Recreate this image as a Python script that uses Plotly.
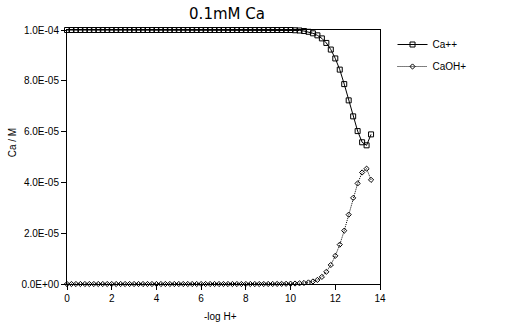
import plotly.graph_objects as go

# -log H+ values (pH) of the titration points
ph = [0.0, 0.2, 0.4, 0.6, 0.8, 1.0, 1.2, 1.4, 1.6, 1.8,
      2.0, 2.2, 2.4, 2.6, 2.8, 3.0, 3.2, 3.4, 3.6, 3.8,
      4.0, 4.2, 4.4, 4.6, 4.8, 5.0, 5.2, 5.4, 5.6, 5.8,
      6.0, 6.2, 6.4, 6.6, 6.8, 7.0, 7.2, 7.4, 7.6, 7.8,
      8.0, 8.2, 8.4, 8.6, 8.8, 9.0, 9.2, 9.4, 9.6, 9.8,
      10.0, 10.2, 10.4, 10.6, 10.8, 11.0, 11.2, 11.4, 11.6, 11.8,
      12.0, 12.2, 12.4, 12.6, 12.8, 13.0, 13.2, 13.4, 13.6]

# Ca++ concentration (M)
ca_free = [1.0e-4] * 51 + [
    0.999e-4, 0.998e-4, 0.996e-4, 0.993e-4, 0.987e-4, 0.979e-4, 0.967e-4, 0.949e-4, 0.923e-4,
    0.888e-4, 0.844e-4, 0.787e-4, 0.723e-4, 0.660e-4, 0.602e-4, 0.558e-4, 0.546e-4, 0.589e-4]

# CaOH+ concentration (M)
ca_oh = [0.0] * 45 + [
    0.01e-6, 0.02e-6, 0.03e-6, 0.05e-6, 0.08e-6,
    0.12e-6, 0.18e-6, 0.27e-6, 0.40e-6, 0.62e-6, 1.0e-6, 1.6e-6, 2.8e-6, 4.8e-6, 7.5e-6,
    11.1e-6, 15.5e-6, 21.0e-6, 27.3e-6, 33.9e-6, 39.6e-6, 43.9e-6, 45.4e-6, 41.0e-6]

y_ticks = [0.0, 2.0e-5, 4.0e-5, 6.0e-5, 8.0e-5, 1.0e-4]
y_tick_labels = ["0.0E+00", "2.0E-05", "4.0E-05", "6.0E-05", "8.0E-05", "1.0E-04"]
x_ticks = [0, 2, 4, 6, 8, 10, 12, 14]

FONT = "Liberation Sans"

fig = go.Figure()
fig.add_trace(go.Scatter(
    x=ph, y=ca_free, name="Ca++", mode="lines+markers", legendgroup="free",
    line=dict(color="black", width=1),
    marker=dict(symbol="square-open", size=5, color="black", line=dict(width=1)),
    cliponaxis=False,
))
fig.add_trace(go.Scatter(
    x=ph, y=ca_oh, name="CaOH+", mode="lines+markers", legendgroup="hydroxo",
    line=dict(color="black", width=1, dash="1px,1px"),
    marker=dict(symbol="diamond-open", size=4, color="black", line=dict(width=1)),
    cliponaxis=False,
))

axis_common = dict(
    showgrid=False, zeroline=False, showline=True, linecolor="black", linewidth=1,
    mirror=True, ticks="outside", ticklen=5, tickwidth=1, tickcolor="black",
    tickfont=dict(family=FONT, size=10, color="black"),
)

fig.update_xaxes(range=[0, 14], tickvals=x_ticks, **axis_common)
fig.update_yaxes(range=[0, 1.0e-4], tickvals=y_ticks, ticktext=y_tick_labels, **axis_common)

fig.update_layout(
    width=520, height=330,
    margin=dict(l=67, r=140, t=30, b=46),
    plot_bgcolor="white", paper_bgcolor="white",
    font=dict(family=FONT, size=10, color="black"),
    title=dict(text="0.1mM Ca", x=227 / 520, xanchor="center", y=1 - 14 / 330, yanchor="middle",
               font=dict(family="DejaVu Sans", size=15, color="black")),
    showlegend=True,
    legend=dict(x=1.04, y=1.0, xanchor="left", yanchor="top",
                font=dict(family=FONT, size=10, color="black"),
                bgcolor="rgba(0,0,0,0)", tracegroupgap=3, traceorder="grouped"),
    annotations=[
        dict(text="-log H+", xref="paper", yref="paper", x=0.49, y=-0.06,
             yshift=-10, xanchor="center", yanchor="top", showarrow=False,
             font=dict(family=FONT, size=10, color="black")),
        dict(text="Ca / M", xref="paper", yref="paper", x=-0.175, y=0.555,
             xanchor="center", yanchor="middle", textangle=-90, showarrow=False,
             font=dict(family=FONT, size=10, color="black")),
    ],
)

fig.write_html("out.html")
